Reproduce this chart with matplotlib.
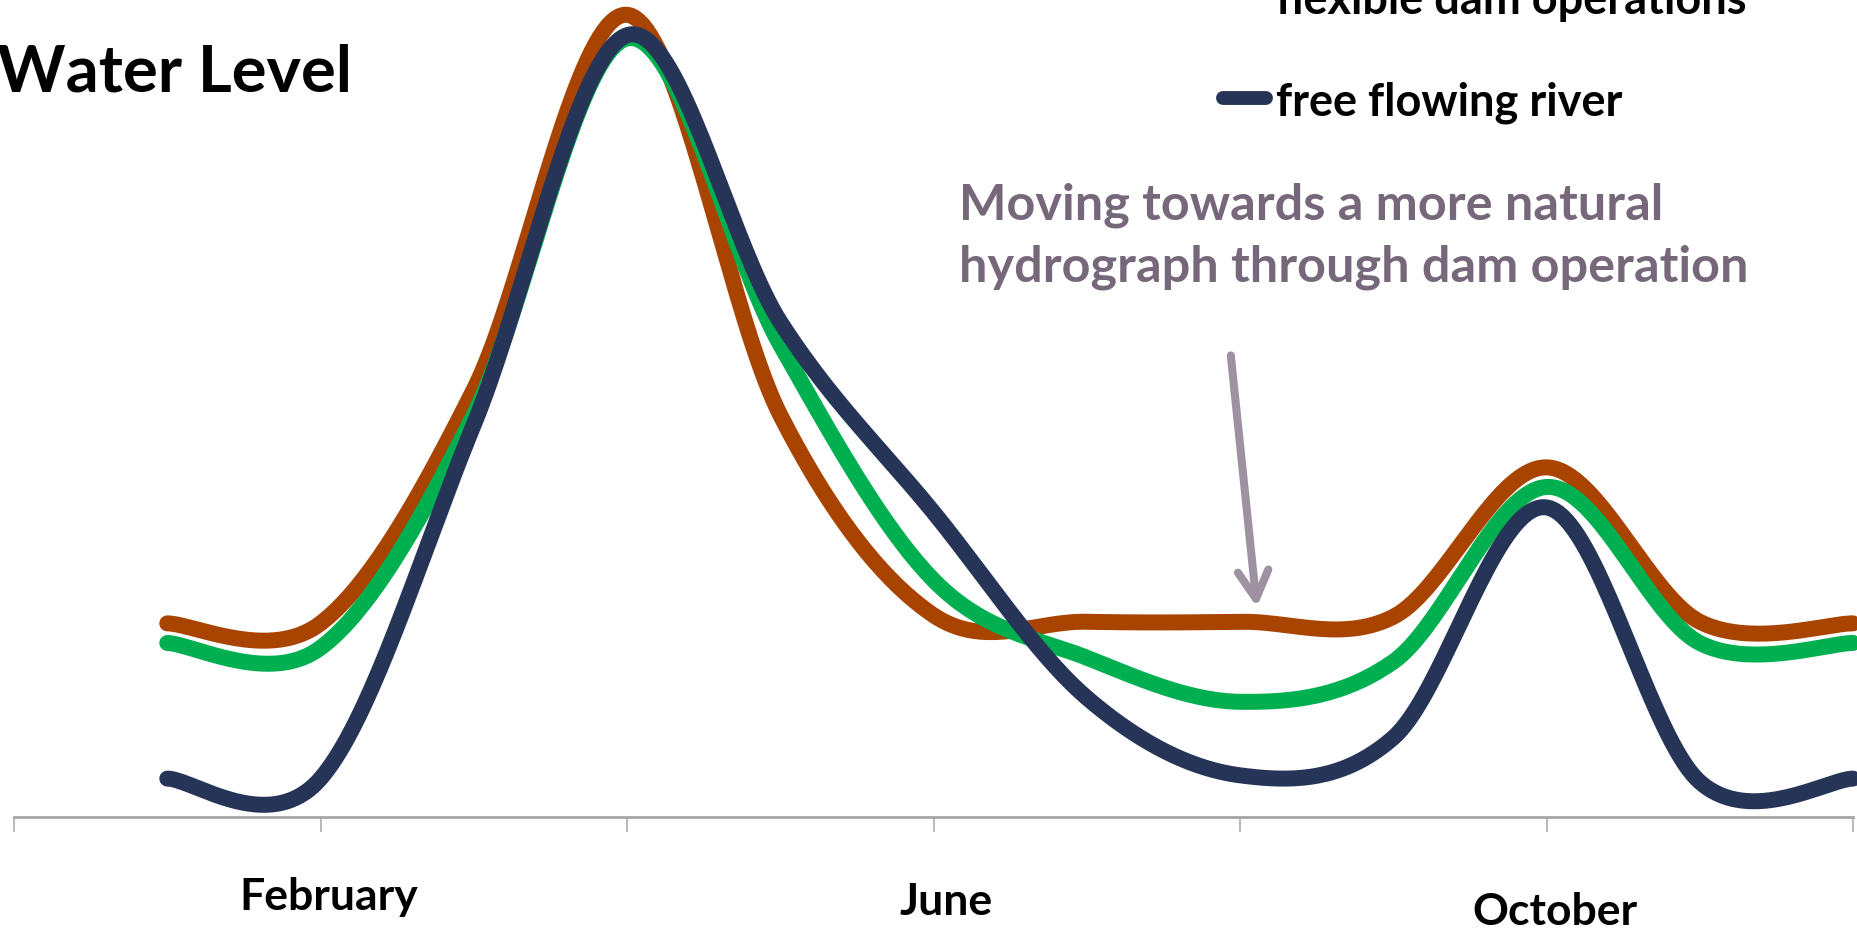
import numpy as np
import matplotlib.pyplot as plt
from matplotlib.lines import Line2D

plt.rcParams['font.family'] = ['Lato', 'DejaVu Sans']
plt.rcParams['font.weight'] = 'bold'

# monthly water level (arbitrary units, 0 = axis line)
months = np.arange(1, 13)
current_dam = [23.7, 23.7, 52.3, 98.2, 49.2, 24.7, 23.9, 23.9, 24.5, 42.8, 23.9, 23.7]
flexible_dam = [21.3, 20.7, 49.2, 95.3, 57.8, 29.0, 19.5, 14.1, 19.0, 40.4, 21.3, 21.3]
free_river = [4.7, 4.7, 48.0, 95.7, 60.6, 37.3, 14.6, 5.1, 9.7, 37.9, 4.3, 4.7]

series = [current_dam, flexible_dam, free_river]
names = ["current dam operations", "flexible dam operations", "free flowing river"]
colors = ["#A84300", "#00B050", "#263457"]

tick_months = [2, 6, 10]
tick_labels = ["February", "June", "October"]
label_offsets = [(8, -80), (13, -85), (8, -95)]  # pixels, matches the staggered look

note = ["Moving towards a more natural", "hydrograph through dam operation"]


def excel_smooth(x, y, n=40):
    # Catmull-Rom style bezier, like Excel's "smoothed line"
    pts = np.column_stack([x, y]).astype(float)
    pts = np.vstack([pts[0], pts, pts[-1]])
    t = np.linspace(0, 1, n)[:, None]
    out = []
    for i in range(1, len(pts) - 2):
        p0, p1 = pts[i], pts[i + 1]
        c0 = p0 + (pts[i + 1] - pts[i - 1]) / 6
        c1 = p1 - (pts[i + 2] - pts[i]) / 6
        seg = (1 - t) ** 3 * p0 + 3 * (1 - t) ** 2 * t * c0 + 3 * (1 - t) * t ** 2 * c1 + t ** 3 * p1
        out.append(seg if i == 1 else seg[1:])
    out = np.vstack(out)
    return out[:, 0], out[:, 1]


W, H = 1857, 930
fig = plt.figure(figsize=(W / 100, H / 100), dpi=100)
ax = fig.add_axes([14 / W, 113 / H, 1839 / W, 817 / H])
ax.set_xlim(0, 12)
ax.set_ylim(0, 100)

for vals, name, col in zip(series, names, colors):
    xs, ys = excel_smooth(months, vals)
    ax.plot(xs, ys, color=col, lw=11.5, solid_capstyle='round', label=name, clip_on=False)

for s in ['left', 'top', 'right']:
    ax.spines[s].set_visible(False)
ax.spines['bottom'].set_color('#A6A6A6')
ax.spines['bottom'].set_linewidth(2)
ax.set_xticks(np.arange(0, 13, 2))
ax.set_yticks([])
ax.tick_params(axis='x', direction='out', length=11, width=1.1, color='#A6A6A6', labelbottom=False)

for m, lab, (dx, dy) in zip(tick_months, tick_labels, label_offsets):
    ax.annotate(lab, xy=(m, 0), xycoords=('data', 'axes fraction'), xytext=(dx, dy),
                textcoords='offset pixels', ha='center', va='center', fontsize=32, color='black')

# title, cut at the left edge like the source
fig.text(-3 / W, 1 - 92 / H, "Water Level", fontsize=47, color='black', va='baseline', ha='left')

# annotation + arrow
fig.text(959 / W, 1 - 219 / H, note[0], fontsize=36.3, color='#76687A', va='baseline')
fig.text(959 / W, 1 - 281 / H, note[1], fontsize=36.3, color='#76687A', va='baseline')
ax.annotate('', xy=(8.11, 25.7), xytext=(7.94, 56.5),
            arrowprops=dict(arrowstyle='->, head_length=0.4, head_width=0.22', color='#9D91A2',
                            lw=5.8, mutation_scale=50, shrinkA=0, shrinkB=0, capstyle='round',
                            joinstyle='round'))

# legend, top right, first entry runs off the canvas
for i, (name, col) in enumerate(zip(names, colors)):
    yc = 98 - (2 - i) * 101
    fig.add_artist(Line2D([1223 / W, 1266 / W], [1 - yc / H, 1 - yc / H], color=col, lw=10,
                          solid_capstyle='round', transform=fig.transFigure))
    fig.text(1276 / W, 1 - (yc + 17) / H, name, fontsize=32.5, color='black', va='baseline')

fig.savefig('out.png', dpi=100)
